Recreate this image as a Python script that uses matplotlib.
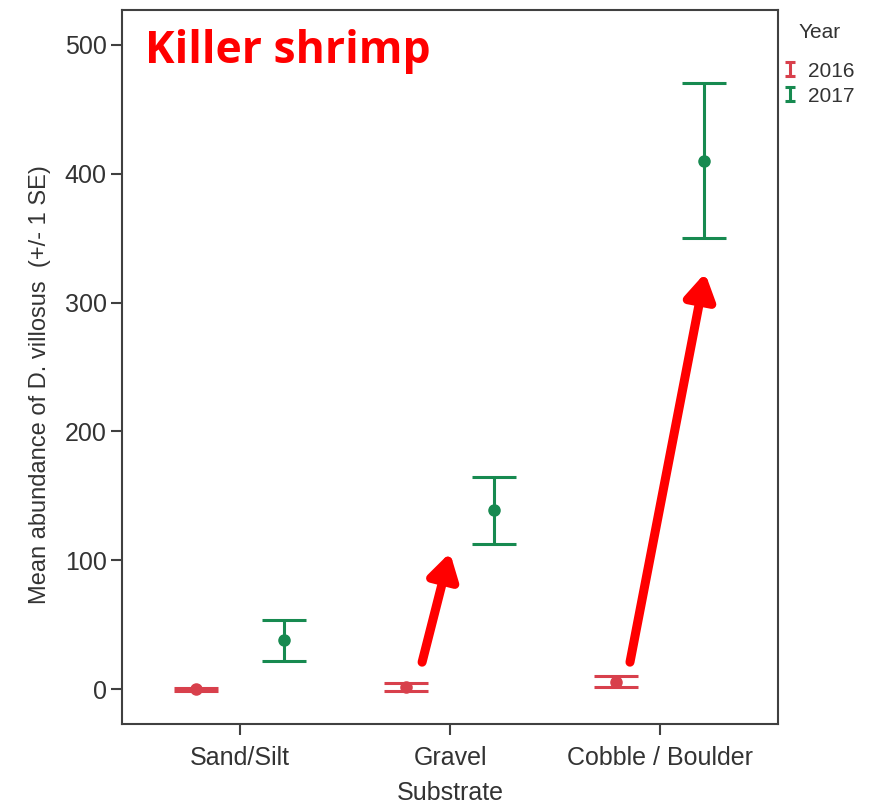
"""
Killer shrimp abundance by substrate and year (mean +/- 1 SE)
"""
import matplotlib
matplotlib.use("Agg")
import matplotlib.pyplot as plt
from matplotlib.lines import Line2D
from matplotlib.path import Path

substrates = ["Sand/Silt", "Gravel", "Cobble / Boulder"]
years = ["2016", "2017"]
mean_2016 = [0, 2, 6]
se_2016 = [1, 3, 4]
mean_2017 = [38, 139, 410]
se_2017 = [16, 26, 60]

RED = "#d8404c"
GREEN = "#178a50"
GRAY = "#404040"


def plot_killer_shrimp():
    plt.rcParams["font.family"] = ["Liberation Sans", "DejaVu Sans"]
    fig = plt.figure(figsize=(8.69, 8.09), dpi=100)
    ax = fig.add_axes([0.1404, 0.105, 0.7549, 0.8826])

    x = list(range(len(substrates)))
    off = 0.21
    for means, ses, col, sign in [(mean_2016, se_2016, RED, -1),
                                  (mean_2017, se_2017, GREEN, 1)]:
        xs = [i + sign * off for i in x]
        ax.errorbar(xs, means, yerr=ses, fmt="o", color=col, ecolor=col,
                    elinewidth=2.2, capsize=16, capthick=2.2, markersize=8)

    ax.set_xlim(-0.562, 2.562)
    ax.set_ylim(-27, 527)
    ax.set_xticks(x)
    ax.set_xticklabels(substrates)
    ax.set_yticks(range(0, 501, 100))
    ax.tick_params(axis="both", direction="out", length=8, width=1.5,
                   color=GRAY, labelsize=18, labelcolor="#333333", pad=3)
    ax.tick_params(axis="x", pad=8)
    for sp in ax.spines.values():
        sp.set_color(GRAY)
        sp.set_linewidth(1.5)

    ax.set_xlabel("Substrate", fontsize=18, color="#333333", labelpad=8)
    ax.set_ylabel("Mean abundance of D. villosus  (+/- 1 SE)", fontsize=17,
                  color="#333333")
    ax.yaxis.set_label_coords(-0.108, 0.475)

    # title inside the plot
    ax.text(0.035, 0.973, "Killer shrimp", transform=ax.transAxes,
            fontsize=32, fontweight="bold", color="#ff0000",
            family=["Open Sans", "DejaVu Sans"], ha="left", va="top")

    # red arrows
    arrow = dict(arrowstyle="-|>,head_length=1.5,head_width=0.9",
                 color="#ff0000", lw=6.5, shrinkA=0, shrinkB=0)
    ax.annotate("", xy=(1.0, 106), xytext=(0.867, 21), arrowprops=arrow)
    ax.annotate("", xy=(2.215, 323), xytext=(1.857, 21), arrowprops=arrow)

    # legend with I-bar symbols
    ibar = Path([(-0.7, 1), (0.7, 1), (0, 1), (0, -1), (-0.7, -1), (0.7, -1)],
                [Path.MOVETO, Path.LINETO, Path.MOVETO, Path.LINETO,
                 Path.MOVETO, Path.LINETO])
    handles = [Line2D([], [], color=c, marker=ibar, linestyle="none",
                      markersize=10, markeredgewidth=2.2, fillstyle="none")
               for c in (RED, GREEN)]
    fig.text(820 / 869, 1 - 32 / 809, "Year", fontsize=15, color="#333333",
             ha="center", va="center")
    leg = fig.legend(handles, years, loc="upper left",
                     bbox_to_anchor=(0.884, 0.942), frameon=False,
                     fontsize=15, handlelength=0.7, borderpad=0.2,
                     handletextpad=0.5, labelspacing=0.3)
    for t in leg.get_texts():
        t.set_color("#333333")

    fig.savefig("out.png", dpi=100)


def main():
    plot_killer_shrimp()


if __name__ == "__main__":
    main()
